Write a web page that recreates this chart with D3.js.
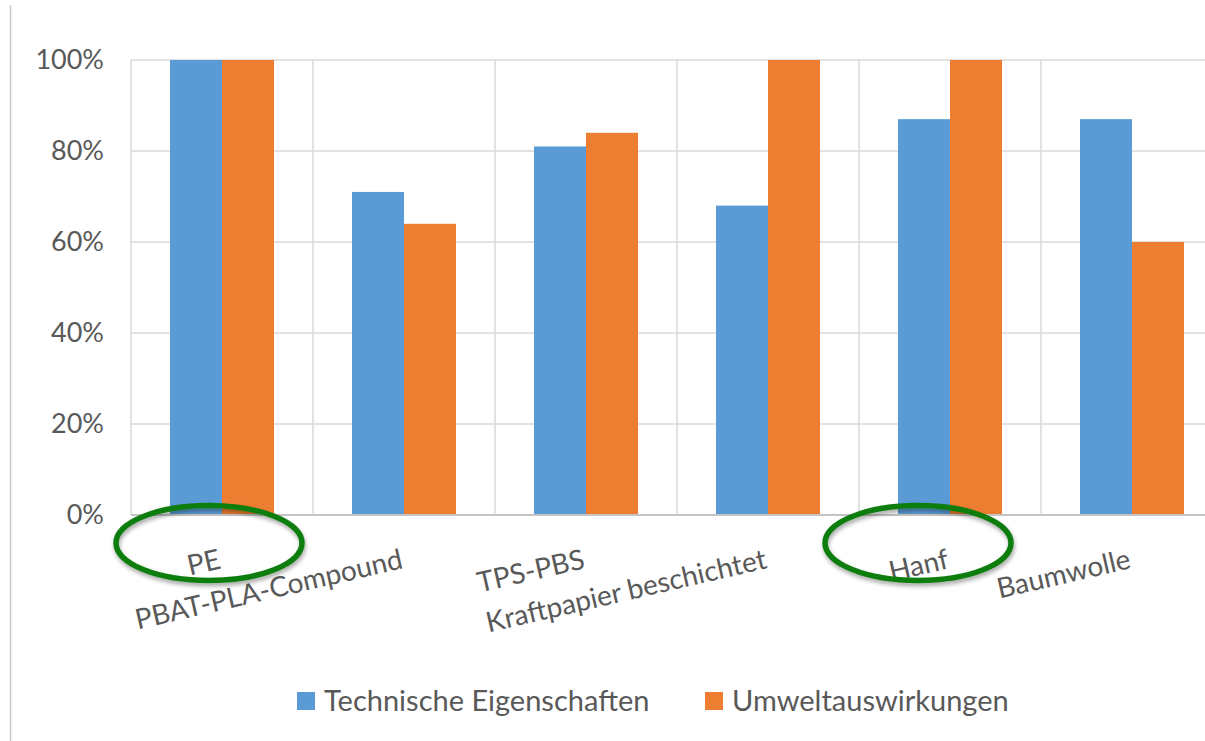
<!DOCTYPE html>
<html>
<head>
<meta charset="utf-8">
<script src="https://cdn.jsdelivr.net/npm/d3@7"></script>
<style>
  body { margin: 0; background: #fff; }
  svg { display: block; font-family: Lato, "Open Sans", sans-serif; }
  .tick-label { fill: #595959; font-size: 27px; }
  .cat-label { fill: #595959; font-size: 28px; }
  .legend-label { fill: #595959; font-size: 29px; }
</style>
</head>
<body>
<svg id="chart" width="1205" height="741"></svg>
<script>
  // data
  const categories = ['PE', 'PBAT-PLA-Compound', 'TPS-PBS', 'Kraftpapier beschichtet', 'Hanf', 'Baumwolle'];
  const seriesNames = ['Technische Eigenschaften', 'Umweltauswirkungen'];
  const technisch = [100, 71, 81, 68, 87, 87];
  const umwelt = [100, 64, 84, 100, 100, 60];
  const yTicks = [0, 20, 40, 60, 80, 100];
  const highlighted = ['PE', 'Hanf'];

  const colors = { 'Technische Eigenschaften': '#5B9BD5', 'Umweltauswirkungen': '#ED7D31' };
  // the hand-drawn circles sit a bit left of the category centre
  const circleShift = { 'PE': -13, 'Hanf': -32 };

  const rows = categories.map((c, i) => ({ cat: c, values: [
    { key: seriesNames[0], v: technisch[i] },
    { key: seriesNames[1], v: umwelt[i] }
  ]}));

  const svg = d3.select('#chart');
  const margin = { left: 131, top: 60, right: -18, bottom: 226 };
  const width = 1205 - margin.left - margin.right;
  const height = 741 - margin.top - margin.bottom;

  const x = d3.scaleBand().domain(categories).range([0, width]).padding(0);
  const xi = d3.scaleBand().domain(seriesNames).range([0, x.bandwidth()]).paddingInner(0).paddingOuter(0.75);
  const y = d3.scaleLinear().domain([0, 100]).range([height, 0]);

  // outer frame line on the left
  svg.append('line')
    .attr('x1', 10.5).attr('x2', 10.5).attr('y1', 5).attr('y2', 741)
    .attr('stroke', '#C8C8C8').attr('stroke-width', 1.5);

  const g = svg.append('g').attr('transform', `translate(${margin.left},${margin.top})`);

  // horizontal gridlines
  g.append('g').selectAll('line').data(yTicks.filter(t => t > 0)).join('line')
    .attr('x1', 0).attr('x2', width)
    .attr('y1', d => y(d)).attr('y2', d => y(d))
    .attr('stroke', '#D9D9D9').attr('stroke-width', 1.5);

  // vertical gridlines at category boundaries
  g.append('g').selectAll('line').data(categories).join('line')
    .attr('x1', d => x(d)).attr('x2', d => x(d))
    .attr('y1', 0).attr('y2', height)
    .attr('stroke', '#D9D9D9').attr('stroke-width', 1.5);

  // bars
  const groups = g.append('g').selectAll('g').data(rows).join('g')
    .attr('transform', d => `translate(${x(d.cat)},0)`);
  groups.selectAll('rect').data(d => d.values).join('rect')
    .attr('x', d => xi(d.key))
    .attr('width', xi.bandwidth())
    .attr('y', d => y(d.v))
    .attr('height', d => y(0) - y(d.v))
    .attr('fill', d => colors[d.key]);

  // baseline
  g.append('line')
    .attr('x1', 0).attr('x2', width).attr('y1', y(0)).attr('y2', y(0))
    .attr('stroke', '#C4C4C4').attr('stroke-width', 2);

  // y axis labels
  g.append('g').selectAll('text').data(yTicks).join('text')
    .attr('class', 'tick-label')
    .attr('x', -27).attr('y', d => y(d))
    .attr('dy', '0.35em')
    .attr('text-anchor', 'end')
    .text(d => d + '%');

  // category labels, rotated
  g.append('g').selectAll('text').data(categories).join('text')
    .attr('class', 'cat-label')
    .attr('text-anchor', 'end')
    .attr('transform', d => `translate(${x(d) + x.bandwidth() / 2},${y(0) + 53}) rotate(-13)`)
    .text(d => d);

  // green highlight ellipses
  const defs = svg.append('defs');
  const f = defs.append('filter').attr('id', 'shadow').attr('x', '-20%').attr('y', '-20%').attr('width', '140%').attr('height', '150%');
  f.append('feDropShadow').attr('dx', 1).attr('dy', 3).attr('stdDeviation', 2)
    .attr('flood-color', '#000').attr('flood-opacity', 0.35);

  g.append('g').selectAll('ellipse').data(highlighted).join('ellipse')
    .attr('cx', d => x(d) + x.bandwidth() / 2 + circleShift[d])
    .attr('cy', y(0) + 28)
    .attr('rx', 93).attr('ry', 37.5)
    .attr('fill', 'none')
    .attr('stroke', '#0F7D0F').attr('stroke-width', 5.5)
    .attr('filter', 'url(#shadow)');

  // legend
  const legendX = [297, 705];
  const legend = svg.append('g').selectAll('g').data(seriesNames).join('g')
    .attr('transform', (d, i) => `translate(${legendX[i]},692)`);
  legend.append('rect').attr('width', 18).attr('height', 18).attr('fill', d => colors[d]);
  legend.append('text').attr('class', 'legend-label')
    .attr('x', 27).attr('y', 9).attr('dy', '0.36em')
    .text(d => d);
</script>
</body>
</html>
